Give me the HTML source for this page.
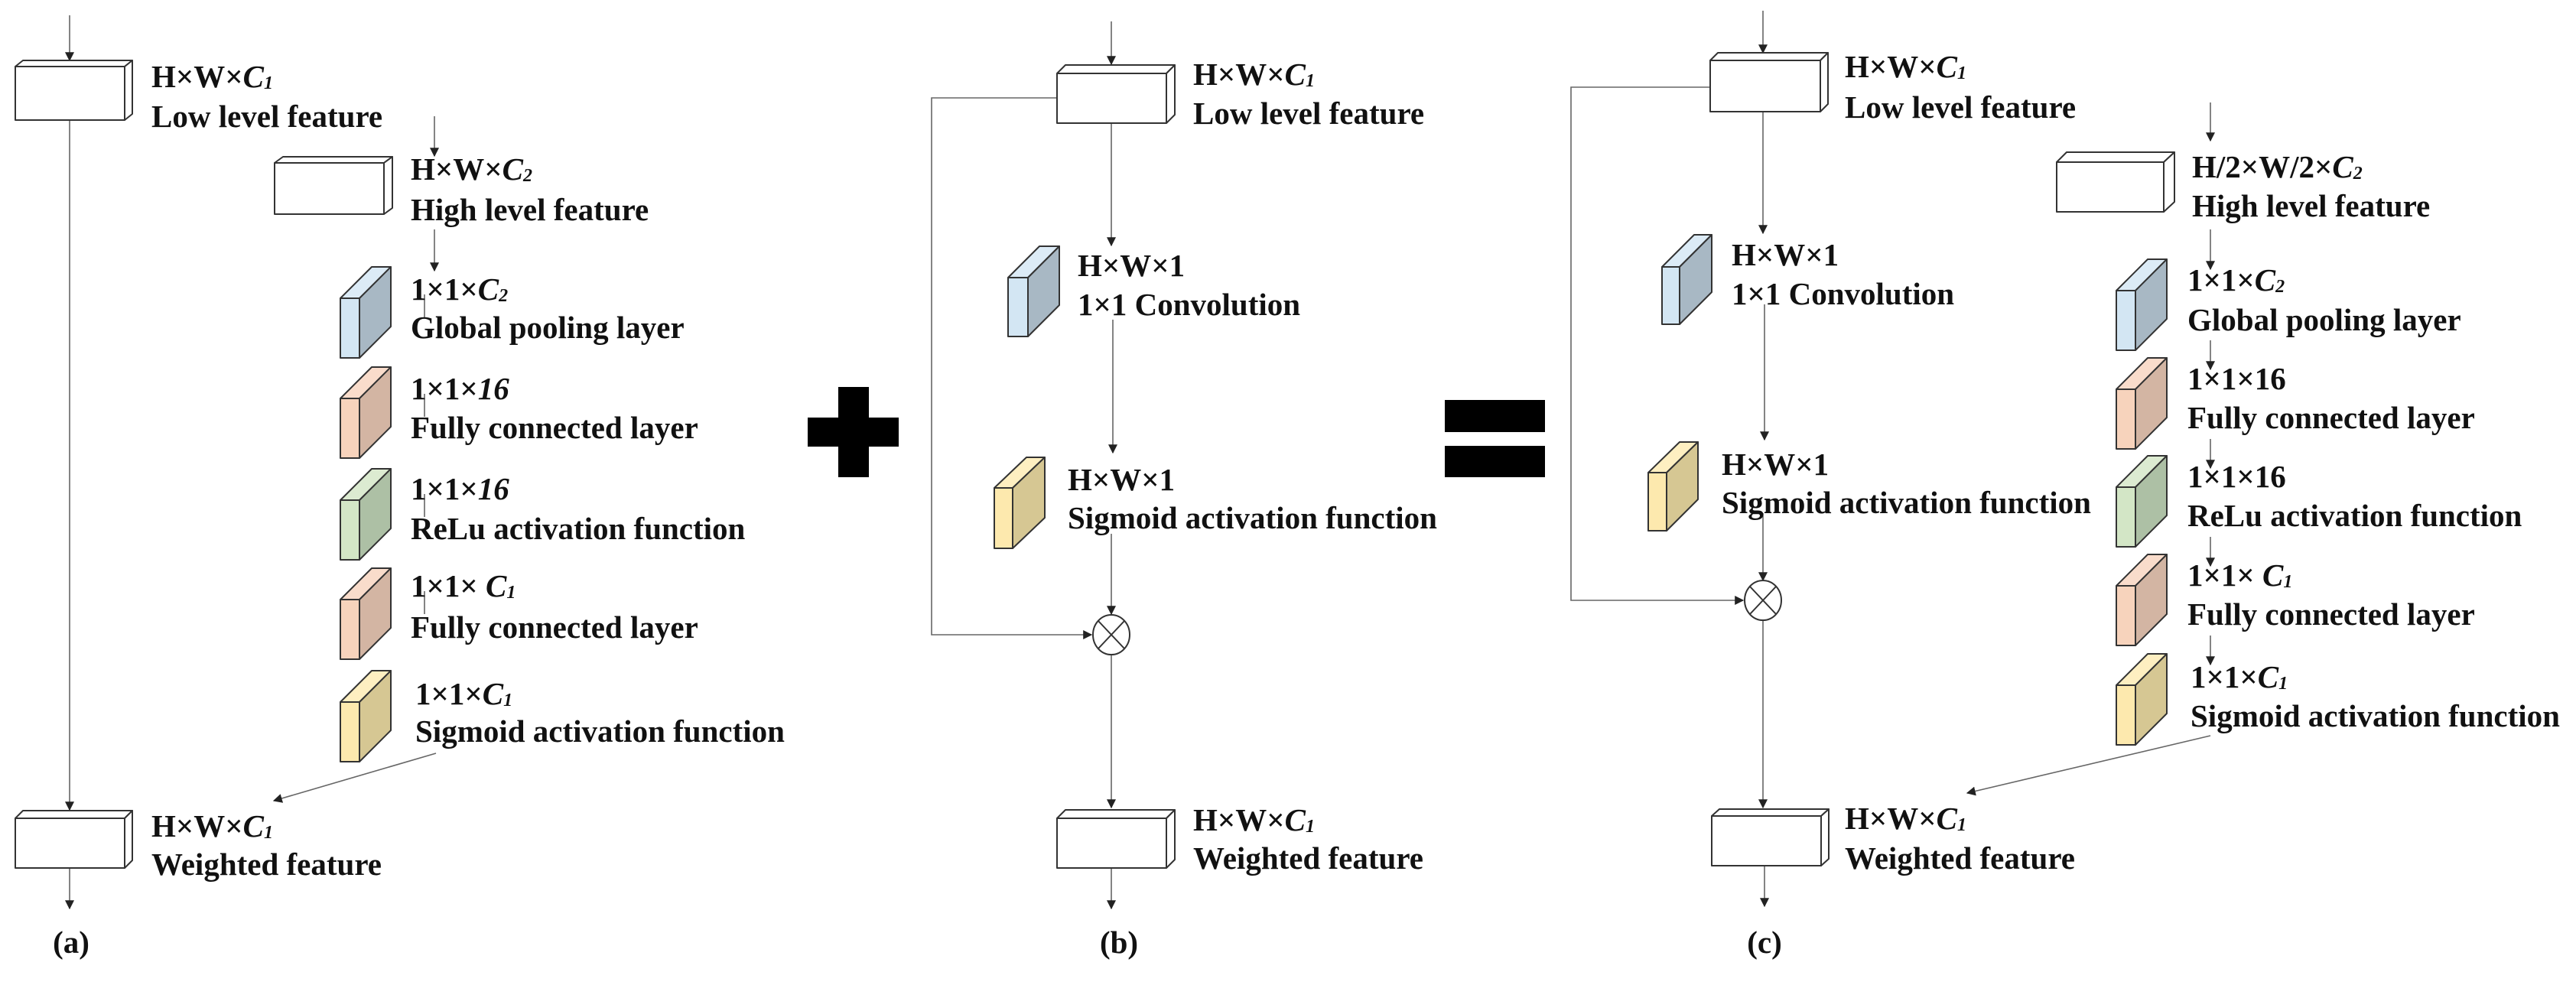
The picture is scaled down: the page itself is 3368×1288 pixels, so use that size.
<!DOCTYPE html>
<html><head><meta charset="utf-8"><style>
html,body{margin:0;padding:0;background:#fff}
svg{display:block}
text{font-family:"Liberation Serif",serif;font-weight:bold;font-size:41px;fill:#111}
.i{font-style:italic}
.s{font-style:italic;font-size:24px}
</style></head><body>
<svg width="3368" height="1288" viewBox="0 0 3368 1288" xmlns="http://www.w3.org/2000/svg">
<defs>
<marker id="ar" viewBox="0 0 10 10" refX="9" refY="5" markerWidth="12" markerHeight="12" markerUnits="userSpaceOnUse" orient="auto"><path d="M0,0 L10,5 L0,10 z" fill="#222"/></marker>
</defs>
<g fill="none" stroke="#666" stroke-width="1.6">
<!-- (a) -->
<line x1="91" y1="20" x2="91" y2="79" marker-end="url(#ar)"/>
<line x1="91" y1="157" x2="91" y2="1059" marker-end="url(#ar)"/>
<line x1="91" y1="1135" x2="91" y2="1188" marker-end="url(#ar)"/>
<line x1="568" y1="152" x2="568" y2="204" marker-end="url(#ar)"/>
<line x1="568" y1="300" x2="568" y2="354" marker-end="url(#ar)"/>
<line x1="555" y1="385" x2="555" y2="415"/>
<line x1="555" y1="515" x2="555" y2="545"/>
<line x1="555" y1="646" x2="555" y2="676"/>
<line x1="555" y1="773" x2="555" y2="803"/>
<line x1="570" y1="985" x2="358" y2="1047" marker-end="url(#ar)"/>
<!-- (b) -->
<line x1="1453" y1="28" x2="1453" y2="84" marker-end="url(#ar)"/>
<line x1="1453" y1="161" x2="1453" y2="321" marker-end="url(#ar)"/>
<line x1="1455" y1="418" x2="1455" y2="592" marker-end="url(#ar)"/>
<line x1="1453" y1="698" x2="1453" y2="803" marker-end="url(#ar)"/>
<line x1="1453" y1="857" x2="1453" y2="1056" marker-end="url(#ar)"/>
<line x1="1453" y1="1135" x2="1453" y2="1188" marker-end="url(#ar)"/>
<polyline points="1382,128 1218,128 1218,830 1427,830" marker-end="url(#ar)"/>
<!-- (c) -->
<line x1="2305" y1="14" x2="2305" y2="69" marker-end="url(#ar)"/>
<line x1="2305" y1="146" x2="2305" y2="305" marker-end="url(#ar)"/>
<line x1="2307" y1="398" x2="2307" y2="575" marker-end="url(#ar)"/>
<line x1="2305" y1="671" x2="2305" y2="759" marker-end="url(#ar)"/>
<line x1="2305" y1="811" x2="2305" y2="1056" marker-end="url(#ar)"/>
<line x1="2307" y1="1132" x2="2307" y2="1185" marker-end="url(#ar)"/>
<polyline points="2236,114 2054,114 2054,785 2279,785" marker-end="url(#ar)"/>
<line x1="2890" y1="134" x2="2890" y2="184" marker-end="url(#ar)"/>
<line x1="2890" y1="300" x2="2890" y2="352" marker-end="url(#ar)"/>
<line x1="2890" y1="445" x2="2890" y2="483" marker-end="url(#ar)"/>
<line x1="2890" y1="574" x2="2890" y2="612" marker-end="url(#ar)"/>
<line x1="2890" y1="702" x2="2890" y2="740" marker-end="url(#ar)"/>
<line x1="2890" y1="831" x2="2890" y2="869" marker-end="url(#ar)"/>
<line x1="2890" y1="962" x2="2572" y2="1037" marker-end="url(#ar)"/>
</g>

<g stroke="#333" stroke-width="2" stroke-linejoin="round">
<rect x="20" y="87" width="143" height="70" fill="#fff"/><polygon points="20,87 30,79 173,79 163,87" fill="#fff"/><polygon points="163,87 173,79 173,149 163,157" fill="#fff"/>
<rect x="359" y="213" width="143" height="67" fill="#fff"/><polygon points="359,213 370,205 513,205 502,213" fill="#fff"/><polygon points="502,213 513,205 513,272 502,280" fill="#fff"/>
<rect x="20" y="1070" width="143" height="65" fill="#fff"/><polygon points="20,1070 30,1060 173,1060 163,1070" fill="#fff"/><polygon points="163,1070 173,1060 173,1125 163,1135" fill="#fff"/>
<rect x="1382" y="96" width="143" height="65" fill="#fff"/><polygon points="1382,96 1393,85 1536,85 1525,96" fill="#fff"/><polygon points="1525,96 1536,85 1536,150 1525,161" fill="#fff"/>
<rect x="1382" y="1070" width="143" height="65" fill="#fff"/><polygon points="1382,1070 1393,1059 1536,1059 1525,1070" fill="#fff"/><polygon points="1525,1070 1536,1059 1536,1124 1525,1135" fill="#fff"/>
<rect x="2236" y="79" width="144" height="67" fill="#fff"/><polygon points="2236,79 2246,69 2390,69 2380,79" fill="#fff"/><polygon points="2380,79 2390,69 2390,136 2380,146" fill="#fff"/>
<rect x="2238" y="1067" width="143" height="65" fill="#fff"/><polygon points="2238,1067 2248,1058 2391,1058 2381,1067" fill="#fff"/><polygon points="2381,1067 2391,1058 2391,1123 2381,1132" fill="#fff"/>
<rect x="2689" y="212" width="140" height="65" fill="#fff"/><polygon points="2689,212 2702,199 2843,199 2829,212" fill="#fff"/><polygon points="2829,212 2843,199 2843,264 2829,277" fill="#fff"/>

<rect x="445" y="390" width="25" height="78" fill="#d3e6f3"/><polygon points="445,390 486,349 511,349 470,390" fill="#dcebf6"/><polygon points="470,390 511,349 511,427 470,468" fill="#a8b8c4"/>
<rect x="445" y="521" width="25" height="78" fill="#f7d3bc"/><polygon points="445,521 486,480 511,480 470,521" fill="#f9dccb"/><polygon points="470,521 511,480 511,558 470,599" fill="#d3b5a3"/>
<rect x="445" y="654" width="25" height="78" fill="#d3e6c6"/><polygon points="445,654 486,613 511,613 470,654" fill="#dcebd1"/><polygon points="470,654 511,613 511,691 470,732" fill="#adc0a5"/>
<rect x="445" y="784" width="25" height="78" fill="#f7d3bc"/><polygon points="445,784 486,743 511,743 470,784" fill="#f9dccb"/><polygon points="470,784 511,743 511,821 470,862" fill="#d3b5a3"/>
<rect x="445" y="918" width="25" height="78" fill="#fde9ae"/><polygon points="445,918 486,877 511,877 470,918" fill="#feefc1"/><polygon points="470,918 511,877 511,955 470,996" fill="#d6c793"/>

<rect x="1318" y="363" width="26" height="77" fill="#d3e6f3"/><polygon points="1318,363 1359,322 1385,322 1344,363" fill="#dcebf6"/><polygon points="1344,363 1385,322 1385,399 1344,440" fill="#a8b8c4"/>
<rect x="1300" y="638" width="24" height="79" fill="#fde9ae"/><polygon points="1300,638 1342,598 1366,598 1324,638" fill="#feefc1"/><polygon points="1324,638 1366,598 1366,677 1324,717" fill="#d6c793"/>

<rect x="2173" y="349" width="23" height="75" fill="#d3e6f3"/><polygon points="2173,349 2215,307 2238,307 2196,349" fill="#dcebf6"/><polygon points="2196,349 2238,307 2238,382 2196,424" fill="#a8b8c4"/>
<rect x="2155" y="618" width="24" height="76" fill="#fde9ae"/><polygon points="2155,618 2196,578 2220,578 2179,618" fill="#feefc1"/><polygon points="2179,618 2220,578 2220,653 2179,694" fill="#d6c793"/>

<rect x="2767" y="380" width="25" height="78" fill="#d3e6f3"/><polygon points="2767,380 2808,339 2833,339 2792,380" fill="#dcebf6"/><polygon points="2792,380 2833,339 2833,417 2792,458" fill="#a8b8c4"/>
<rect x="2767" y="509" width="25" height="78" fill="#f7d3bc"/><polygon points="2767,509 2808,468 2833,468 2792,509" fill="#f9dccb"/><polygon points="2792,509 2833,468 2833,546 2792,587" fill="#d3b5a3"/>
<rect x="2767" y="637" width="25" height="78" fill="#d3e6c6"/><polygon points="2767,637 2808,596 2833,596 2792,637" fill="#dcebd1"/><polygon points="2792,637 2833,596 2833,674 2792,715" fill="#adc0a5"/>
<rect x="2767" y="766" width="25" height="78" fill="#f7d3bc"/><polygon points="2767,766 2808,725 2833,725 2792,766" fill="#f9dccb"/><polygon points="2792,766 2833,725 2833,803 2792,844" fill="#d3b5a3"/>
<rect x="2767" y="896" width="25" height="78" fill="#fde9ae"/><polygon points="2767,896 2808,855 2833,855 2792,896" fill="#feefc1"/><polygon points="2792,896 2833,855 2833,933 2792,974" fill="#d6c793"/>
</g>

<g fill="#fff" stroke="#333" stroke-width="2">
<ellipse cx="1453" cy="830" rx="24" ry="26"/>
<line x1="1436" y1="812" x2="1470" y2="848"/><line x1="1470" y1="812" x2="1436" y2="848"/>
<ellipse cx="2305" cy="785" rx="24" ry="26"/>
<line x1="2288" y1="767" x2="2322" y2="803"/><line x1="2322" y1="767" x2="2288" y2="803"/>
</g>

<rect x="1096" y="506" width="40" height="118" fill="#000"/>
<rect x="1056" y="546" width="119" height="38" fill="#000"/>
<rect x="1889" y="523" width="131" height="42" fill="#000"/>
<rect x="1889" y="583" width="131" height="41" fill="#000"/>

<text x="198" y="114">H×W×<tspan class="i">C</tspan><tspan class="s" dy="2">1</tspan></text>
<text x="198" y="166">Low level feature</text>
<text x="537" y="235">H×W×<tspan class="i">C</tspan><tspan class="s" dy="2">2</tspan></text>
<text x="537" y="288">High level feature</text>
<text x="537" y="392">1×1×<tspan class="i">C</tspan><tspan class="s" dy="2">2</tspan></text>
<text x="537" y="442">Global pooling layer</text>
<text x="537" y="522">1×1×<tspan class="i">16</tspan></text>
<text x="537" y="573">Fully connected layer</text>
<text x="537" y="653">1×1×<tspan class="i">16</tspan></text>
<text x="537" y="705">ReLu activation function</text>
<text x="537" y="780">1×1× <tspan class="i">C</tspan><tspan class="s" dy="2">1</tspan></text>
<text x="537" y="834">Fully connected layer</text>
<text x="543" y="921">1×1×<tspan class="i">C</tspan><tspan class="s" dy="2">1</tspan></text>
<text x="543" y="970">Sigmoid activation function</text>
<text x="198" y="1094">H×W×<tspan class="i">C</tspan><tspan class="s" dy="2">1</tspan></text>
<text x="198" y="1144">Weighted feature</text>
<text x="93" y="1246" text-anchor="middle">(a)</text>

<text x="1560" y="111">H×W×<tspan class="i">C</tspan><tspan class="s" dy="2">1</tspan></text>
<text x="1560" y="162">Low level feature</text>
<text x="1409" y="361">H×W×1</text>
<text x="1409" y="412">1×1 Convolution</text>
<text x="1396" y="641">H×W×1</text>
<text x="1396" y="691">Sigmoid activation function</text>
<text x="1560" y="1086">H×W×<tspan class="i">C</tspan><tspan class="s" dy="2">1</tspan></text>
<text x="1560" y="1136">Weighted feature</text>
<text x="1463" y="1246" text-anchor="middle">(b)</text>

<text x="2412" y="101">H×W×<tspan class="i">C</tspan><tspan class="s" dy="2">1</tspan></text>
<text x="2412" y="154">Low level feature</text>
<text x="2264" y="347">H×W×1</text>
<text x="2264" y="398">1×1 Convolution</text>
<text x="2251" y="621">H×W×1</text>
<text x="2251" y="671">Sigmoid activation function</text>
<text x="2866" y="232">H/2×W/2×<tspan class="i">C</tspan><tspan class="s" dy="2">2</tspan></text>
<text x="2866" y="283">High level feature</text>
<text x="2860" y="380">1×1×<tspan class="i">C</tspan><tspan class="s" dy="2">2</tspan></text>
<text x="2860" y="432">Global pooling layer</text>
<text x="2860" y="509">1×1×16</text>
<text x="2860" y="560">Fully connected layer</text>
<text x="2860" y="637">1×1×16</text>
<text x="2860" y="688">ReLu activation function</text>
<text x="2860" y="766">1×1× <tspan class="i">C</tspan><tspan class="s" dy="2">1</tspan></text>
<text x="2860" y="817">Fully connected layer</text>
<text x="2864" y="899">1×1×<tspan class="i">C</tspan><tspan class="s" dy="2">1</tspan></text>
<text x="2864" y="950">Sigmoid activation function</text>
<text x="2412" y="1084">H×W×<tspan class="i">C</tspan><tspan class="s" dy="2">1</tspan></text>
<text x="2412" y="1136">Weighted feature</text>
<text x="2307" y="1246" text-anchor="middle">(c)</text>
</svg>
</body></html>
